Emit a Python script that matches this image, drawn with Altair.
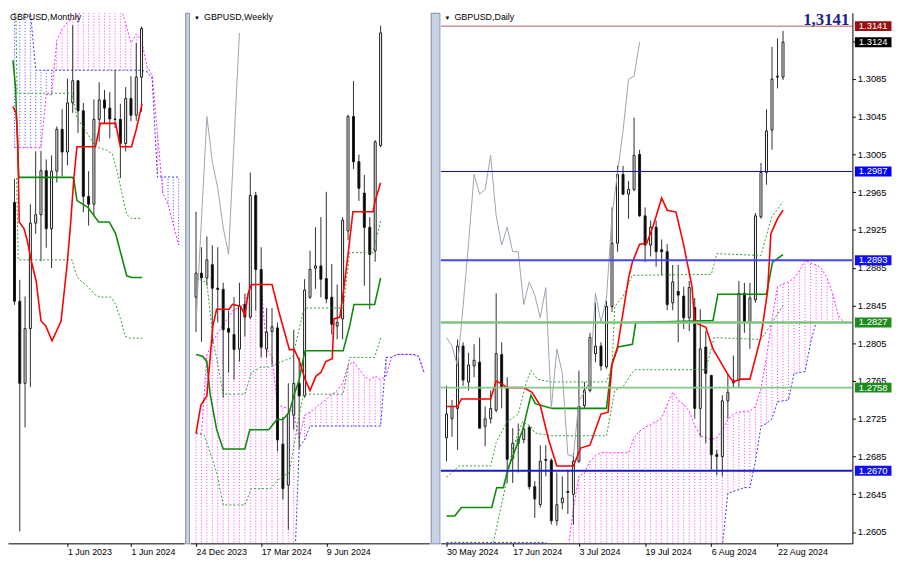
import json
import pandas as pd
import altair as alt

FONT = "Liberation Sans"
H = 536
W_M, W_SEP1, W_W, W_SEP2, W_D = 178, 4, 242, 9, 416

PINK = "#ff22ff"
BLUE = "#3434ff"
RED = "#ff0000"
GREEN = "#0b8a0b"
DOTGREEN = "#2f9f2f"
GRAY = "#9aa5b1"
EDGE = "#1a1a1a"

# ------------------------------------------------------------------ monthly
m_x = [-10, -9, -8, -7, -6, -5, -4, -3, -2, -1, 0, 1, 2, 3, 4, 5, 6, 7, 8, 9, 10, 11, 12, 13, 14]
m_open = [1.2165, 1.1620, 1.1167, 1.1469, 1.2051, 1.2097, 1.2340, 1.2020, 1.2337, 1.2568, 1.2443, 1.2714, 1.2836,
          1.2670, 1.2198, 1.2155, 1.2623, 1.2730, 1.2685, 1.2625, 1.2623, 1.2490, 1.2738, 1.2646, 1.2856]
m_high = [1.2294, 1.1738, 1.1646, 1.2154, 1.2447, 1.2448, 1.2402, 1.2424, 1.2584, 1.2680, 1.2848, 1.3142, 1.2841,
          1.2713, 1.2337, 1.2733, 1.2828, 1.2785, 1.2773, 1.2894, 1.2709, 1.2801, 1.2861, 1.3044, 1.3136]
m_low = [1.1600, 1.0350, 1.0924, 1.1147, 1.1992, 1.1841, 1.1915, 1.1803, 1.2275, 1.2308, 1.2369, 1.2659, 1.2548,
         1.2111, 1.2037, 1.2096, 1.2500, 1.2597, 1.2518, 1.2575, 1.2299, 1.2446, 1.2612, 1.2615, 1.2665]
m_close = [1.1620, 1.1167, 1.1469, 1.2051, 1.2097, 1.2340, 1.2020, 1.2337, 1.2568, 1.2443, 1.2714, 1.2836, 1.2670,
           1.2198, 1.2155, 1.2623, 1.2730, 1.2685, 1.2625, 1.2623, 1.2490, 1.2738, 1.2646, 1.2856, 1.3124]

m_tenkan_x = [-10.29, -9.7, -9.4, -9.1, -8.2, -7.6, -6.8, -5.9, -5.0, -4.1, -2.9, -1.2, 0.0, 0.6, 1.2, 1.8, 5.3, 6.2,
              9.1, 10.0, 12.1, 13.0, 14.1]
m_tenkan_y = [1.2694, 1.2658, 1.2512, 1.2057, 1.2021, 1.1957, 1.1839, 1.1730, 1.1511, 1.1484, 1.1402, 1.1511, 1.1839,
              1.2048, 1.2294, 1.2472, 1.2472, 1.2601, 1.2601, 1.2472, 1.2472, 1.2567, 1.2710]
m_kijun_x = [-10.29, -9.8, -9.2, -9.1, 0.9, 1.2, 1.8, 3.8, 5.9, 7.9, 9.1, 10.0, 11.2, 12.1, 14.1]
m_kijun_y = [1.2949, 1.2800, 1.2312, 1.2303, 1.2303, 1.2294, 1.2175, 1.2139, 1.2057, 1.2057, 1.1993, 1.1893, 1.1760,
             1.1751, 1.1751]
m_dotA_x = [-9.8, -9.5, 0.9, 1.8, 3.2, 5.3, 7.4, 8.5, 9.4, 10.3, 11.2, 12.1, 14.1]
m_dotA_y = [1.3300, 1.2767, 1.2767, 1.2630, 1.2571, 1.2472, 1.2453, 1.2433, 1.2334, 1.2216, 1.2097, 1.2077, 1.2077]
m_dotB_x = [-9.6, -9.3, 0.9, 1.5, 2.1, 3.8, 5.3, 6.2, 8.2, 9.1, 10.0, 10.9, 11.8, 14.1]
m_dotB_y = [1.2300, 1.1848, 1.1848, 1.1781, 1.1742, 1.1702, 1.1653, 1.1643, 1.1643, 1.1603, 1.1524, 1.1426, 1.1416,
            1.1416]
m_cloud_x = [-10, -9, -8, -7, -6, -5, -4, -3, -2, -1, 0, 1, 2, 3, 4, 5, 6, 7, 8, 9, 10, 11, 12, 13, 14, 15, 16, 17,
             18, 19, 20, 21]
m_spanA = [1.2467, 1.2467, 1.2467, 1.2467, 1.2467, 1.2467, 1.2759, 1.2759, 1.3058, 1.3122, 1.3158, 1.3176, 1.3195,
           1.3240, 1.3290, 1.3300, 1.3300, 1.3300, 1.3300, 1.3290, 1.3249, 1.3150, 1.3045, 1.3094, 1.3060, 1.2915,
           1.2867, 1.2550, 1.2216, 1.2157, 1.2040, 1.1930]
m_spanB = [1.3222, 1.3222, 1.3222, 1.3222, 1.2894, 1.2894, 1.2894, 1.2894, 1.2894, 1.2894, 1.2894, 1.2894, 1.2894,
           1.2894, 1.2894, 1.2894, 1.2894, 1.2894, 1.2894, 1.2894, 1.2894, 1.2894, 1.2894, 1.2894, 1.2894, 1.2886,
           1.2848, 1.2305, 1.2305, 1.2305, 1.2305, 1.2305]
m_tick_vals = [0, 12]
m_tick_text = ["1 Jun 2023", "1 Jun 2024"]

# ------------------------------------------------------------------ weekly
w_x = list(range(0, 35))
w_open = [1.2686, 1.2726, 1.2718, 1.2740, 1.2701, 1.2699, 1.2634, 1.2624, 1.2600, 1.2674, 1.2653, 1.2855, 1.2732,
          1.2600, 1.2629, 1.2635, 1.2442, 1.2374, 1.2490, 1.2543, 1.2522, 1.2686, 1.2734, 1.2738, 1.2717, 1.2686,
          1.2638, 1.2650, 1.2796, 1.2986, 1.2911, 1.2859, 1.2802, 1.2763, 1.2938]
w_high = [1.2828, 1.2769, 1.2787, 1.2772, 1.2769, 1.2710, 1.2664, 1.2686, 1.2710, 1.2692, 1.2893, 1.2861, 1.2769,
          1.2668, 1.2668, 1.2644, 1.2487, 1.2543, 1.2632, 1.2586, 1.2716, 1.2763, 1.2802, 1.2819, 1.2861, 1.2741,
          1.2707, 1.2819, 1.2989, 1.3045, 1.2923, 1.2889, 1.2819, 1.2947, 1.3137]
w_low = [1.2628, 1.2612, 1.2705, 1.2610, 1.2644, 1.2519, 1.2561, 1.2549, 1.2579, 1.2621, 1.2650, 1.2664, 1.2586,
         1.2586, 1.2573, 1.2430, 1.2350, 1.2300, 1.2466, 1.2436, 1.2519, 1.2683, 1.2700, 1.2686, 1.2676, 1.2624,
         1.2616, 1.2616, 1.2781, 1.2899, 1.2846, 1.2705, 1.2666, 1.2745, 1.2935]
w_close = [1.2726, 1.2718, 1.2748, 1.2701, 1.2699, 1.2632, 1.2628, 1.2599, 1.2671, 1.2653, 1.2855, 1.2732, 1.2603,
           1.2628, 1.2637, 1.2449, 1.2368, 1.2493, 1.2543, 1.2522, 1.2698, 1.2732, 1.2738, 1.2716, 1.2683, 1.2641,
           1.2644, 1.2814, 1.2986, 1.2911, 1.2867, 1.2802, 1.2757, 1.2944, 1.3125]
w_tenkan_x = [0, 0.9, 2.0, 3.1, 3.8, 6.1, 6.7, 8.2, 9.0, 9.6, 10.2, 14.0, 15.2, 17.2, 18.1, 19.0, 20.1, 21.0, 22.1,
              23.0, 23.9, 25.1, 25.4, 26.5, 27.1, 28.0, 28.9, 32.6, 33.0, 34.0]
w_tenkan_y = [1.2460, 1.2507, 1.2522, 1.2638, 1.2666, 1.2666, 1.2674, 1.2671, 1.2656, 1.2692, 1.2707, 1.2707, 1.2664,
              1.2599, 1.2599, 1.2581, 1.2549, 1.2531, 1.2555, 1.2561, 1.2579, 1.2584, 1.2650, 1.2653, 1.2692, 1.2757,
              1.2828, 1.2828, 1.2846, 1.2876]
w_kijun_x = [0, 1.2, 2.0, 2.6, 3.8, 5.0, 9.0, 9.9, 13.4, 14.9, 16.0, 17.2, 18.1, 19.0, 19.8, 20.1, 27.1, 28.3, 29.1,
             32.9, 34.0]
w_kijun_y = [1.2591, 1.2588, 1.2579, 1.2525, 1.2466, 1.2434, 1.2434, 1.2466, 1.2466, 1.2483, 1.2483, 1.2495, 1.2525,
             1.2549, 1.2586, 1.2597, 1.2597, 1.2638, 1.2674, 1.2674, 1.2718]
w_dotA_x = [0, 2.0, 3.2, 3.8, 5.0, 9.0, 10.2, 12.0, 13.7, 14.9, 17.8, 18.4, 19.8, 20.4, 27.1, 28.3, 32.6, 34.1]
w_dotA_y = [1.2718, 1.2710, 1.2610, 1.2584, 1.2525, 1.2525, 1.2561, 1.2570, 1.2570, 1.2576, 1.2586, 1.2610, 1.2664,
            1.2668, 1.2668, 1.2760, 1.2760, 1.2816]
w_dotB_x = [0, 1.5, 3.8, 5.0, 9.0, 10.2, 13.7, 15.5, 17.2, 19.0, 19.8, 27.1, 28.3, 32.9, 34.1]
w_dotB_y = [1.2460, 1.2457, 1.2395, 1.2341, 1.2341, 1.2368, 1.2368, 1.2386, 1.2395, 1.2490, 1.2525, 1.2525, 1.2586,
            1.2586, 1.2621]
w_chikou_x = [0, 1, 2, 3, 4, 5, 6, 7, 8]
w_chikou_y = [1.2644, 1.2814, 1.2986, 1.2911, 1.2867, 1.2802, 1.2757, 1.2944, 1.3125]
w_cloud_x = list(range(0, 43))
w_spanA = [1.2460, 1.2460, 1.2590, 1.2610, 1.2627, 1.2640, 1.2653, 1.2666, 1.2668, 1.2677,
           1.2705, 1.2707, 1.2707, 1.2600, 1.2586, 1.2507, 1.2504, 1.2501, 1.2495, 1.2450,
           1.2490, 1.2495, 1.2502, 1.2510, 1.2516, 1.2525, 1.2531, 1.2543, 1.2573, 1.2579,
           1.2567, 1.2555, 1.2549, 1.2555, 1.2549, 1.2555, 1.2586, 1.2591, 1.2591, 1.2591,
           1.2591, 1.2588, 1.2561]
w_spanB = [1.2200, 1.2200, 1.2200, 1.2200, 1.2200, 1.2200, 1.2200, 1.2200, 1.2200, 1.2200,
           1.2200, 1.2200, 1.2200, 1.2200, 1.2200, 1.2200, 1.2200, 1.2200, 1.2200, 1.2436,
           1.2449, 1.2472, 1.2472, 1.2472, 1.2472, 1.2472, 1.2472, 1.2472, 1.2472, 1.2472,
           1.2472, 1.2472, 1.2472, 1.2472, 1.2472, 1.2586, 1.2586, 1.2591, 1.2591, 1.2591,
           1.2591, 1.2588, 1.2561]
w_tick_vals = [0, 12, 24]
w_tick_text = ["24 Dec 2023", "17 Mar 2024", "9 Jun 2024"]

# ------------------------------------------------------------------ daily
d_x = list(range(0, 62))
d_open = [1.2705, 1.2725, 1.2736, 1.2802, 1.2764, 1.2781, 1.2785, 1.2717, 1.2725, 1.2734,
          1.2793, 1.2758, 1.2683, 1.2699, 1.2703, 1.2716, 1.2653, 1.2634, 1.2682, 1.2681,
          1.2617, 1.2636, 1.2648, 1.2645, 1.2680, 1.2739, 1.2755, 1.2794, 1.2802, 1.2780,
          1.2844, 1.2911, 1.2984, 1.2963, 1.2968, 1.3005, 1.2940, 1.2909, 1.2928, 1.2904,
          1.2902, 1.2848, 1.2860, 1.2855, 1.2832, 1.2843, 1.2736, 1.2801, 1.2771, 1.2687,
          1.2685, 1.2744, 1.2763, 1.2766, 1.2858, 1.2827, 1.2851, 1.2939, 1.2986, 1.3031,
          1.3087, 1.3087]
d_high = [1.2760, 1.2745, 1.2809, 1.2806, 1.2795, 1.2804, 1.2811, 1.2738, 1.2755, 1.2858,
          1.2806, 1.2769, 1.2715, 1.2720, 1.2720, 1.2718, 1.2659, 1.2697, 1.2697, 1.2683,
          1.2668, 1.2664, 1.2671, 1.2689, 1.2776, 1.2764, 1.2816, 1.2848, 1.2806, 1.2850,
          1.2949, 1.2993, 1.2993, 1.2977, 1.3044, 1.3010, 1.2949, 1.2935, 1.2935, 1.2915,
          1.2910, 1.2888, 1.2888, 1.2865, 1.2871, 1.2853, 1.2841, 1.2818, 1.2771, 1.2692,
          1.2750, 1.2773, 1.2792, 1.2871, 1.2869, 1.2869, 1.2943, 1.2996, 1.3053, 1.3119,
          1.3128, 1.3136]
d_low = [1.2680, 1.2706, 1.2692, 1.2760, 1.2755, 1.2769, 1.2715, 1.2696, 1.2720, 1.2732,
         1.2736, 1.2657, 1.2657, 1.2668, 1.2699, 1.2650, 1.2620, 1.2631, 1.2664, 1.2613,
         1.2612, 1.2629, 1.2624, 1.2613, 1.2678, 1.2736, 1.2753, 1.2785, 1.2776, 1.2778,
         1.2838, 1.2902, 1.2962, 1.2937, 1.2966, 1.2939, 1.2891, 1.2897, 1.2886, 1.2877,
         1.2840, 1.2840, 1.2806, 1.2820, 1.2818, 1.2725, 1.2706, 1.2699, 1.2671, 1.2665,
         1.2664, 1.2725, 1.2758, 1.2758, 1.2816, 1.2799, 1.2848, 1.2937, 1.2973, 1.3010,
         1.3075, 1.3084]
d_close = [1.2730, 1.2738, 1.2802, 1.2766, 1.2782, 1.2787, 1.2715, 1.2725, 1.2736, 1.2794,
           1.2758, 1.2682, 1.2699, 1.2703, 1.2714, 1.2653, 1.2640, 1.2680, 1.2681, 1.2617,
           1.2634, 1.2641, 1.2647, 1.2680, 1.2738, 1.2755, 1.2811, 1.2802, 1.2781, 1.2844,
           1.2911, 1.2984, 1.2963, 1.2968, 1.3004, 1.2940, 1.2909, 1.2928, 1.2902, 1.2902,
           1.2846, 1.2870, 1.2856, 1.2832, 1.2864, 1.2736, 1.2799, 1.2773, 1.2687, 1.2685,
           1.2744, 1.2753, 1.2766, 1.2858, 1.2827, 1.2853, 1.2940, 1.2986, 1.3030, 1.3085,
           1.3088, 1.3124]
d_tenkan_x = [0, 2.0, 2.7, 8.0, 9.0, 10.0, 11.0, 14.0, 15.5, 17.0, 18.5, 20.0, 23.0, 24.3, 26.0, 28.0, 29.3, 30.0,
              31.0, 33.0, 33.7, 35.0, 36.3, 37.5, 39.0, 40.0, 41.6, 43.0, 44.5, 45.0, 47.0, 48.3, 51.0, 52.0, 53.3,
              55.0, 57.0, 58.2, 58.8, 60.0, 61.0]
d_tenkan_y = [1.2738, 1.2738, 1.2746, 1.2746, 1.2765, 1.2762, 1.2758, 1.2758, 1.2753, 1.2739, 1.2703, 1.2675, 1.2675,
              1.2694, 1.2697, 1.2730, 1.2732, 1.2783, 1.2801, 1.2874, 1.2891, 1.2910, 1.2911, 1.2930, 1.2959, 1.2946,
              1.2944, 1.2909, 1.2865, 1.2827, 1.2822, 1.2799, 1.2772, 1.2764, 1.2767, 1.2767, 1.2812, 1.2860, 1.2921,
              1.2937, 1.2946]
d_kijun_x = [0, 1.5, 2.7, 8.2, 9.1, 10.3, 11.2, 13.8, 15.3, 16.1, 19.1, 29.0, 29.9, 31.1, 33.7, 34.3, 48.3, 49.2,
             58.0, 59.1, 61.0]
d_kijun_y = [1.2622, 1.2622, 1.2631, 1.2631, 1.2652, 1.2652, 1.2673, 1.2713, 1.2750, 1.2741, 1.2736, 1.2736, 1.2781,
             1.2801, 1.2804, 1.2827, 1.2829, 1.2857, 1.2857, 1.2891, 1.2899]
d_dotA_x = [0, 2.3, 8.0, 9.0, 11.0, 13.0, 14.5, 15.3, 16.5, 19.0, 29.0, 30.0, 30.5, 32.0, 33.7, 48.0, 49.0, 57.0,
            58.5, 59.0, 61.0]
d_dotA_y = [1.2663, 1.2675, 1.2675, 1.2700, 1.2722, 1.2730, 1.2764, 1.2776, 1.2767, 1.2764, 1.2764, 1.2780, 1.2844,
            1.2855, 1.2877, 1.2878, 1.2900, 1.2898, 1.2930, 1.2939, 1.2955]
d_dotB_x = [8.5, 11.0, 12.0, 13.8, 15.3, 16.0, 19.0, 29.0, 30.5, 32.0, 33.7, 34.3, 47.0, 48.5, 57.0, 58.5, 61.0]
d_dotB_y = [1.2594, 1.2662, 1.2694, 1.2722, 1.2717, 1.2710, 1.2707, 1.2707, 1.2755, 1.2759, 1.2774, 1.2777, 1.2777,
            1.2811, 1.2809, 1.2822, 1.2845]
d_chikou_x = list(range(0, 36))
d_chikou_y = [1.2811, 1.2802, 1.2781, 1.2844, 1.2911, 1.2984, 1.2963, 1.2968, 1.3004, 1.2940,
              1.2909, 1.2928, 1.2902, 1.2902, 1.2846, 1.2870, 1.2856, 1.2832, 1.2864, 1.2736,
              1.2799, 1.2773, 1.2687, 1.2685, 1.2744, 1.2753, 1.2766, 1.2858, 1.2827, 1.2853,
              1.2940, 1.2986, 1.3030, 1.3085, 1.3088, 1.3124]
d_cloud_x = list(range(0, 73))
d_spanA = [1.2560, 1.2560, 1.2560, 1.2560, 1.2560, 1.2560, 1.2560, 1.2560, 1.2560, 1.2560,
           1.2560, 1.2560, 1.2560, 1.2560, 1.2560, 1.2560, 1.2560, 1.2560, 1.2560, 1.2560,
           1.2560, 1.2560, 1.2585, 1.2630, 1.2664, 1.2668, 1.2680, 1.2686, 1.2689, 1.2689,
           1.2689, 1.2689, 1.2689, 1.2689, 1.2705, 1.2712, 1.2716, 1.2719, 1.2722, 1.2726,
           1.2740, 1.2753, 1.2745, 1.2740, 1.2733, 1.2718, 1.2707, 1.2705, 1.2703, 1.2705,
           1.2713, 1.2724, 1.2730, 1.2732, 1.2733, 1.2733, 1.2738, 1.2757, 1.2790, 1.2830,
           1.2865, 1.2868, 1.2870, 1.2874, 1.2882, 1.2893, 1.2890, 1.2888, 1.2884, 1.2874,
           1.2858, 1.2835, 1.2827]
d_spanB = [1.2594, 1.2594, 1.2594, 1.2594, 1.2594, 1.2594, 1.2594, 1.2594, 1.2594, 1.2594,
           1.2594, 1.2594, 1.2594, 1.2594, 1.2594, 1.2594, 1.2594, 1.2594, 1.2594, 1.2550,
           1.2550, 1.2550, 1.2550, 1.2550, 1.2550, 1.2550, 1.2550, 1.2550, 1.2550, 1.2550,
           1.2550, 1.2550, 1.2550, 1.2550, 1.2550, 1.2550, 1.2550, 1.2550, 1.2550, 1.2550,
           1.2550, 1.2550, 1.2550, 1.2550, 1.2550, 1.2550, 1.2550, 1.2550, 1.2550, 1.2550,
           1.2590, 1.2646, 1.2648, 1.2650, 1.2652, 1.2652, 1.2680, 1.2717, 1.2720, 1.2725,
           1.2743, 1.2744, 1.2745, 1.2773, 1.2774, 1.2775, 1.2806, 1.2827, 1.2827, 1.2827,
           1.2827, 1.2827, 1.2827]
d_tick_vals = [0, 12, 24, 36, 48, 60]
d_tick_text = ["30 May 2024", "17 Jun 2024", "3 Jul 2024", "19 Jul 2024", "6 Aug 2024", "22 Aug 2024"]
d_ytick = [1.2605, 1.2645, 1.2685, 1.2725, 1.2765, 1.2805, 1.2845, 1.2885, 1.2925, 1.2965, 1.3005, 1.3045, 1.3085,
           1.3125]

level_values = [1.3141, 1.2987, 1.2893, 1.2827, 1.2758, 1.2670]
level_colors = ["#b85a5a", "#0000ff", "#4646ff", "#7cc47c", "#86c886", "#1c1cc8"]
level_widths = [1, 1, 2, 2.5, 2, 2]
box_values = [1.3141, 1.3124, 1.2987, 1.2893, 1.2827, 1.2758, 1.2670]
box_text = ["1.3141", "1.3124", "1.2987", "1.2893", "1.2827", "1.2758", "1.2670"]
box_colors = ["#9a1010", "#000000", "#0000ff", "#1010f0", "#1f8c1f", "#1f8c1f", "#1010f0"]
target_text = "1,3141"


def xaxis(vals, texts):
    expr = "%s[indexof(%s, datum.value)]" % (json.dumps(texts), json.dumps(vals))
    return alt.Axis(values=vals, labelExpr=expr, labelAlign="left", labelBaseline="top",
                    labelFont=FONT, labelFontSize=9, labelColor="black", labelPadding=1,
                    tickColor="black", tickSize=3, domainColor="black", domainWidth=1,
                    grid=False, title=None, labelOverlap=False, labelFlush=False, labelBound=False)


def make_panel(xdom, ydom, width, xax, yax, ox, oo, oh, ol, oc, lines, cx, sa, sb, title, tri, extras):
    sx = alt.Scale(domain=xdom, nice=False, zero=False)
    sy = alt.Scale(domain=ydom, nice=False, zero=False)

    def X(f):
        return alt.X(f + ":Q", scale=sx, axis=xax)

    def Y(f):
        return alt.Y(f + ":Q", scale=sy, axis=yax)

    layers = []
    cdf = pd.DataFrame({"x": cx, "a": sa, "b": sb})
    cdf["lo"] = cdf[["a", "b"]].min(axis=1)
    cdf["hi"] = cdf[["a", "b"]].max(axis=1)
    cdf["up"] = (cdf["a"] >= cdf["b"]).astype(int)
    layers.append(alt.Chart(cdf).mark_rule(strokeDash=[1, 2], strokeWidth=1, clip=True, opacity=0.9).encode(
        x=X("x"), y=Y("lo"), y2="hi",
        color=alt.condition(alt.datum.up == 1, alt.value(PINK), alt.value(BLUE))))
    layers.append(alt.Chart(cdf).mark_line(color=PINK, strokeDash=[2, 2], strokeWidth=1, clip=True).encode(
        x=X("x"), y=Y("a")))
    layers.append(alt.Chart(cdf).mark_line(color=BLUE, strokeDash=[2, 2], strokeWidth=1, clip=True).encode(
        x=X("x"), y=Y("b")))

    kdf = pd.DataFrame({"x": ox, "o": oo, "h": oh, "l": ol, "c": oc})
    kdf["up"] = (kdf["c"] >= kdf["o"]).astype(int)
    layers.append(alt.Chart(kdf).mark_rule(color="#303030", strokeWidth=1, clip=True).encode(
        x=X("x"), y=Y("l"), y2="h"))
    layers.append(alt.Chart(kdf).mark_bar(size=2, stroke=EDGE, strokeWidth=1, clip=True).encode(
        x=X("x"), y=Y("o"), y2="c",
        color=alt.condition(alt.datum.up == 1, alt.value("white"), alt.value("black"))))

    for xs, ys, col, sw, dash in lines:
        ldf = pd.DataFrame({"x": xs, "y": ys})
        kw = dict(color=col, strokeWidth=sw, clip=True)
        if dash:
            kw["strokeDash"] = dash
        layers.append(alt.Chart(ldf).mark_line(**kw).encode(x=X("x"), y=Y("y")))

    layers.extend(extras(X, Y))

    one = pd.DataFrame({"v": [0]})
    if tri:
        layers.append(alt.Chart(one).mark_text(text="\u25bc", font=FONT, fontSize=6, align="left",
                                               baseline="top", color="black").encode(
            x=alt.value(4), y=alt.value(2)))
        tx = 14
    else:
        tx = 2
    layers.append(alt.Chart(one).mark_text(text=title, font=FONT, fontSize=9, align="left",
                                           baseline="top", color="black").encode(
        x=alt.value(tx), y=alt.value(0)))
    return alt.layer(*layers).properties(width=width, height=H,
                                         view=alt.ViewBackground(fill="white", strokeWidth=0))


def no_extras(X, Y):
    return []


def daily_extras(X, Y):
    out = []
    ldf = pd.DataFrame({"y": level_values, "c": level_colors, "w": level_widths})
    out.append(alt.Chart(ldf).mark_rule(clip=True).encode(
        y=Y("y"), color=alt.Color("c:N", scale=None), strokeWidth=alt.StrokeWidth("w:Q", scale=None)))
    bdf = pd.DataFrame({"y": box_values, "c": box_colors, "t": box_text})
    out.append(alt.Chart(bdf).mark_tick(orient="horizontal", thickness=10, size=37, opacity=1).encode(
        y=Y("y"), x=alt.value(W_D + 21), color=alt.Color("c:N", scale=None)))
    out.append(alt.Chart(bdf).mark_text(font=FONT, fontSize=9.5, color="white", align="center",
                                        baseline="middle").encode(
        y=Y("y"), x=alt.value(W_D + 21), text="t:N"))
    tdf = pd.DataFrame({"t": [target_text]})
    out.append(alt.Chart(tdf).mark_text(font="Liberation Serif", fontSize=17, fontWeight="bold",
                                        color="#1f1f8f", align="right", baseline="top").encode(
        y=alt.value(-1), x=alt.value(W_D - 3), text="t:N"))
    return out


# vertical domains span the reference picture rows 12..548
m_panel = make_panel(
    [-10.29, 21.12], [1.02844, 1.32110], W_M, xaxis(m_tick_vals, m_tick_text), None,
    m_x, m_open, m_high, m_low, m_close,
    [(m_dotA_x, m_dotA_y, DOTGREEN, 1, [2, 2]), (m_dotB_x, m_dotB_y, DOTGREEN, 1, [2, 2]),
     (m_kijun_x, m_kijun_y, GREEN, 1.6, None), (m_tenkan_x, m_tenkan_y, RED, 1.6, None)],
    m_cloud_x, m_spanA, m_spanB, "GBPUSD,Monthly", False, no_extras)

w_panel = make_panel(
    [-0.17, 42.13], [1.22772, 1.31584], W_W, xaxis(w_tick_vals, w_tick_text), None,
    w_x, w_open, w_high, w_low, w_close,
    [(w_dotA_x, w_dotA_y, DOTGREEN, 1, [2, 2]), (w_dotB_x, w_dotB_y, DOTGREEN, 1, [2, 2]),
     (w_kijun_x, w_kijun_y, GREEN, 1.6, None), (w_tenkan_x, w_tenkan_y, RED, 1.6, None),
     (w_chikou_x, w_chikou_y, GRAY, 1, None)],
    w_cloud_x, w_spanA, w_spanB, "GBPUSD,Weekly", True, no_extras)

d_yaxis = alt.Axis(orient="right", values=d_ytick, format=".4f", labelFont=FONT, labelFontSize=9.5,
                   labelColor="black", tickColor="black", tickSize=3, domainColor="black",
                   labelPadding=2, grid=False, title=None, labelOverlap=False, labelFlush=False)

d_panel = make_panel(
    [-0.175, 72.68], [1.25930, 1.31552], W_D, xaxis(d_tick_vals, d_tick_text), d_yaxis,
    d_x, d_open, d_high, d_low, d_close,
    [(d_dotA_x, d_dotA_y, DOTGREEN, 1, [2, 2]), (d_dotB_x, d_dotB_y, DOTGREEN, 1, [2, 2]),
     (d_kijun_x, d_kijun_y, GREEN, 1.6, None), (d_tenkan_x, d_tenkan_y, RED, 1.6, None),
     (d_chikou_x, d_chikou_y, GRAY, 1, None)],
    d_cloud_x, d_spanA, d_spanB, "GBPUSD,Daily", True, daily_extras)


def sep(width):
    return alt.Chart(pd.DataFrame({"v": [0]})).mark_point(opacity=0, size=1, clip=True).encode(
        x=alt.X("v:Q", axis=None, scale=alt.Scale(domain=[-1, 1])),
        y=alt.Y("v:Q", axis=None, scale=alt.Scale(domain=[-1, 1]))
    ).properties(width=width, height=H,
                 view=alt.ViewBackground(fill="#c7d3e4", stroke="#7d8ba0", strokeWidth=1))


chart = alt.hconcat(m_panel, sep(W_SEP1), w_panel, sep(W_SEP2), d_panel, spacing=0).properties(
    padding=0, background="white").configure_view(strokeWidth=0)

chart.save("out.html", embed_options={"renderer": "svg", "actions": False})
